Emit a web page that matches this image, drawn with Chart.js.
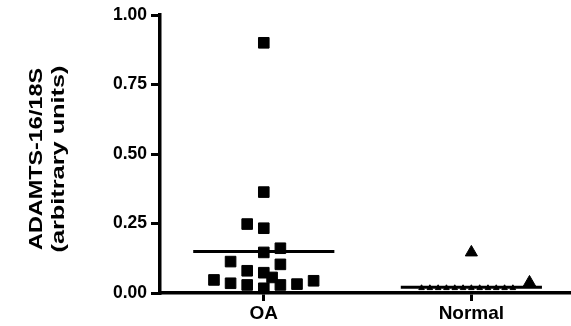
<!DOCTYPE html>
<html><head><meta charset="utf-8">
<script src="https://cdn.jsdelivr.net/npm/chart.js@4/dist/chart.umd.min.js"></script>
<style>html,body{margin:0;padding:0;background:#fff}</style>
</head><body>
<canvas id="c" width="571" height="326"></canvas>
<script>
const categories = ['OA', 'Normal'];
const yTickValues = [0, 0.25, 0.5, 0.75, 1.0];
const titleLines = ['ADAMTS-16/18S', '(arbitrary units)'];

const oaValues = [0.900, 0.363, 0.248, 0.233, 0.146, 0.161, 0.113, 0.103, 0.080, 0.073, 0.056, 0.047, 0.035, 0.029, 0.029, 0.032, 0.044, 0.017];
const oaJitter = [0, 0, -0.08, 0, 0, 0.08, -0.16, 0.08, -0.08, 0, 0.04, -0.24, -0.16, -0.08, 0.08, 0.16, 0.24, 0];
const oaMean = 0.149;

const normalValues = [0.146, 0.038, 0.018, 0.018, 0.018, 0.018, 0.018, 0.018, 0.018, 0.018, 0.018, 0.018, 0.018, 0.018];
const normalJitter = [0, 0.28, -0.24, -0.20, -0.16, -0.12, -0.08, -0.04, 0, 0.04, 0.08, 0.12, 0.16, 0.20];
const normalMean = 0.0205;

const meanHalfWidth = 0.34;

const FONT = '"Liberation Sans", Arial, Helvetica, sans-serif';

function pts(values, jitter, catIndex) {
  return values.map((v, i) => ({ x: catIndex + jitter[i], y: v }));
}
function meanLine(mean, catIndex) {
  return [{ x: catIndex - meanHalfWidth, y: mean }, { x: catIndex + meanHalfWidth, y: mean }];
}

const titlePlugin = {
  id: 'ytitle',
  afterDraw(chart) {
    const ctx = chart.ctx;
    ctx.save();
    ctx.fillStyle = '#000';
    ctx.font = 'bold 18.5px ' + FONT;
    ctx.textAlign = 'center';
    ctx.textBaseline = 'alphabetic';
    const spec = [[42, titleLines[0], 182], [64, titleLines[1], 187]];
    spec.forEach(([bx, t, len]) => {
      const w = ctx.measureText(t).width;
      ctx.save();
      ctx.translate(bx, 159);
      ctx.rotate(-Math.PI / 2);
      ctx.scale(len / w, 1);
      ctx.fillText(t, 0, 0);
      ctx.restore();
    });
    ctx.restore();
  }
};

new Chart(document.getElementById('c'), {
  type: 'scatter',
  data: {
    datasets: [
      { data: meanLine(oaMean, 0), showLine: true, borderColor: '#000', borderWidth: 3, pointRadius: 0, clip: false },
      { data: meanLine(normalMean, 1), showLine: true, borderColor: '#000', borderWidth: 3, pointRadius: 0, clip: false },
      { data: pts(oaValues, oaJitter, 0), pointStyle: 'rect', pointRadius: 7.5, pointBackgroundColor: '#000', pointBorderColor: '#000', pointBorderWidth: 1, clip: false },
      { data: pts(normalValues, normalJitter, 1), pointStyle: 'triangle', pointRadius: ctx => ctx.dataIndex < 2 ? 7 : 3.2, pointBackgroundColor: '#000', pointBorderColor: '#000', pointBorderWidth: 1, clip: false }
    ]
  },
  options: {
    responsive: false,
    animation: false,
    devicePixelRatio: 1,
    layout: { autoPadding: false, padding: { top: 15, right: 0, left: 0, bottom: 0 } },
    plugins: { legend: { display: false }, tooltip: { enabled: false } },
    scales: {
      x: {
        type: 'linear', min: -0.5, max: 1.48,
        afterBuildTicks: s => { s.ticks = categories.map((c, i) => ({ value: i })); },
        afterFit: s => { s.height = 33; s.paddingLeft = 0; s.paddingRight = 0; },
        ticks: { callback: (v) => categories[v], color: '#000', font: { family: FONT, weight: 'bold', size: 19 }, padding: 1, maxRotation: 0 },
        grid: { display: true, drawOnChartArea: false, drawTicks: true, tickLength: 8, lineWidth: 3, tickWidth: 3, tickColor: '#000', color: '#000' },
        border: { display: true, color: '#000', width: 3.5 }
      },
      y: {
        min: 0, max: 1,
        afterBuildTicks: s => { s.ticks = yTickValues.map(v => ({ value: v })); },
        afterFit: s => { s.width = 160; s.paddingTop = 0; s.paddingBottom = 0; },
        ticks: { callback: v => v.toFixed(2), color: '#000', font: { family: FONT, weight: 'bold', size: 17.5 }, padding: 4 },
        grid: { display: true, drawOnChartArea: false, drawTicks: true, tickLength: 9, lineWidth: 3, tickWidth: 3, tickColor: '#000', color: '#000' },
        border: { display: true, color: '#000', width: 3.5 }
      }
    }
  },
  plugins: [titlePlugin]
});
</script>
</body></html>
